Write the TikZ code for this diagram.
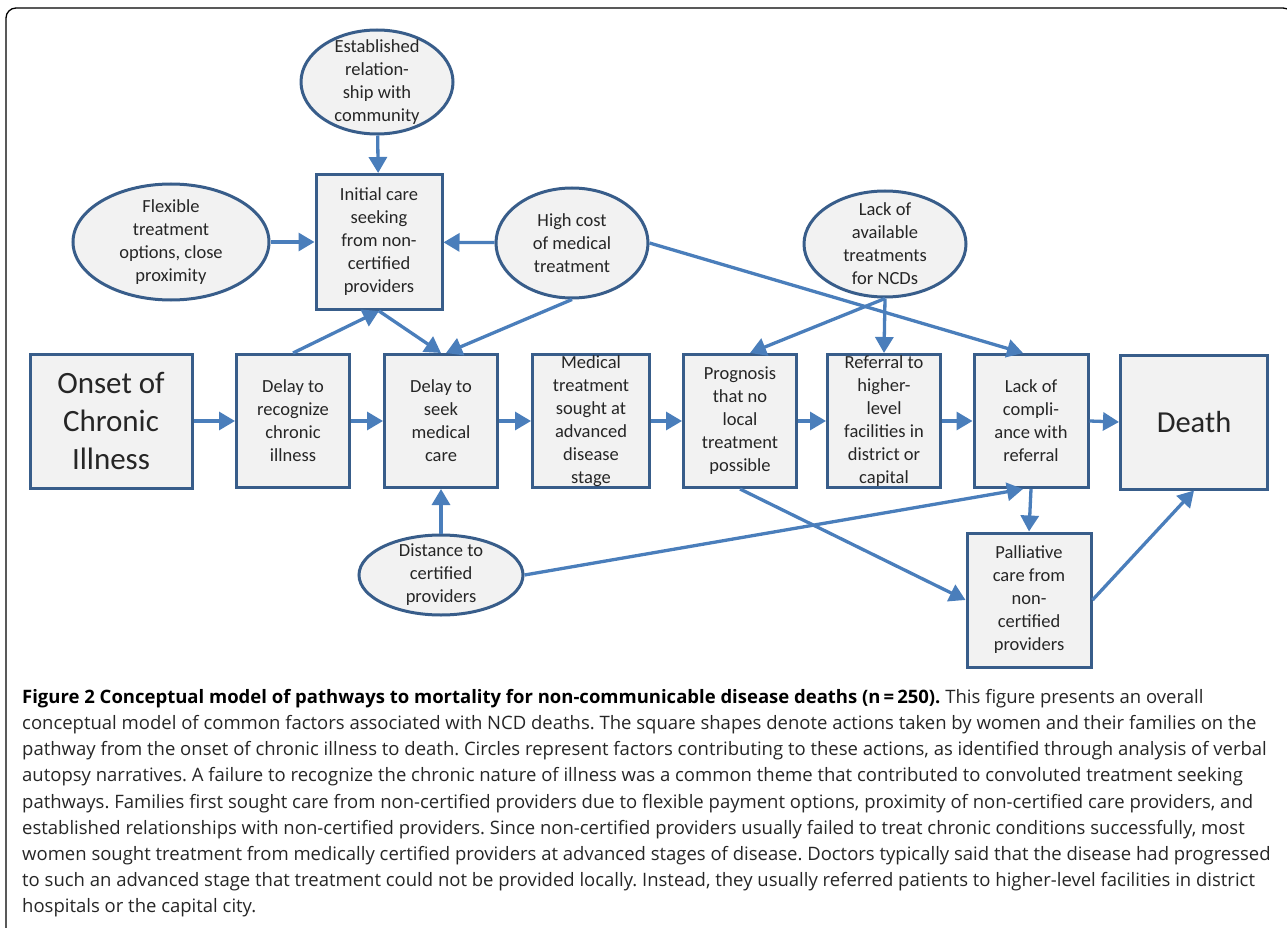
\documentclass[tikz,border=0pt]{standalone}
\usepackage{fontspec}
\setmainfont{Carlito}
\newfontfamily\capfont{Open Sans}
\usetikzlibrary{arrows.meta,shapes.geometric}
\definecolor{boxline}{HTML}{385D8A}
\definecolor{boxfill}{HTML}{F2F2F2}
\definecolor{arrowblue}{HTML}{4A7EBB}

\begin{document}
\begin{tikzpicture}[x=1pt,y=-1pt]
\useasboundingbox (0,0) rectangle (1287,928);
\draw [line width=1.3pt, rounded corners=10pt] (6,950) -- (6,8) -- (1293,8) -- (1293,950);

\begin{scope}[every node/.style={rectangle,draw=boxline,fill=boxfill,line width=3pt,
              align=center,inner xsep=0pt,inner ysep=-12pt,text=black!85,
              font=\fontsize{18.5}{23}\selectfont}]
    \node [minimum width=162pt,minimum height=134pt,font=\fontsize{31}{38}\selectfont] (ON) at (111,421) {Onset of\\Chronic\\Illness};
    \node [minimum width=113pt,minimum height=133pt] (DR) at (293,421) {Delay to\\recognize\\chronic\\illness};
    \node [minimum width=113pt,minimum height=133pt] (DS) at (441,421) {Delay to\\seek\\medical\\care};
    \node [minimum width=117pt,minimum height=133pt] (MT) at (591,421) {Medical\\treatment\\sought at\\advanced\\disease\\stage};
    \node [minimum width=113pt,minimum height=133pt] (PR) at (740,421) {Prognosis\\that no\\local\\treatment\\possible};
    \node [minimum width=113pt,minimum height=133pt] (RF) at (884,421) {Referral to\\higher-\\level\\facilities in\\district or\\capital};
    \node [minimum width=114pt,minimum height=133pt] (LC) at (1031,421) {Lack of\\compli-\\ance with\\referral};
    \node [minimum width=147pt,minimum height=134pt,font=\fontsize{30.5}{37}\selectfont] (DE) at (1194,422) {Death};
    \node [minimum width=126pt,minimum height=135pt] (IC) at (379,242) {Initial care\\seeking\\from non-\\certified\\providers};
    \node [minimum width=124pt,minimum height=134pt] (PC) at (1029,600) {Palliative\\care from\\non-\\certified\\providers};
\end{scope}

\begin{scope}[every node/.style={ellipse,draw=boxline,fill=boxfill,line width=3pt,
              align=center,inner sep=-40pt,text=black!85,
              font=\fontsize{18.5}{23}\selectfont}]
    \node [minimum width=152pt,minimum height=104pt] (ER) at (377,82) {Established\\relation-\\ship with\\community};
    \node [minimum width=196pt,minimum height=116pt] (FT) at (171,242) {Flexible\\treatment\\options, close\\proximity};
    \node [minimum width=152pt,minimum height=110pt] (HC) at (572,243) {High cost\\of medical\\treatment};
    \node [minimum width=162pt,minimum height=106pt] (LA) at (885,244) {Lack of\\available\\treatments\\for NCDs};
    \node [minimum width=164pt,minimum height=80pt] (DC) at (441,575) {Distance to\\certified\\providers};
\end{scope}

\begin{scope}[>={Triangle[length=16pt,width=18pt]},
              every edge/.style={draw=arrowblue,line width=3.3pt}]
    \path [->] (ON) edge (DR);
    \path [->] (DR) edge (DS);
    \path [->] (DS) edge (MT);
    \path [->] (MT) edge (PR);
    \path [->] (PR) edge (RF);
    \path [->] (RF) edge (LC);
    \path [->] (LC.east) edge (DE.west);
    \path [->] (ER) edge (IC);
    \path [->] (FT) edge (IC);
    \path [->] (HC) edge (IC);
    \path [->] (DR.north) edge (IC.south);
    \path [->] (IC.south) edge (DS.north);
    \path [->] (HC.south) edge ([xshift=5pt]DS.north);
    \path [->] (HC.east) edge ([xshift=-8pt]LC.north);
    \path [->] (LA.south) edge ([xshift=10pt]PR.north);
    \path [->] (LA.south) edge (RF.north);
    \path [->] (DC) edge (DS);
    \path [->] (DC.east) edge ([xshift=-8pt]LC.south);
    \path [->] (LC.south) edge (PC.north);
    \path [->] (PR.south) edge (PC.west);
    \path [->] (PC.east) edge (DE.south);
\end{scope}

\node [anchor=north west,align=left,inner sep=0pt,text=black!85,
       font=\capfont\frenchspacing\fontsize{18.5}{26.2}\selectfont] (CAP) at (22,689)
  {\textbf{\color{black}Figure 2 Conceptual model of pathways to mortality for non-communicable disease deaths (n\,=\,250).} This figure presents an overall\\
   conceptual model of common factors associated with NCD deaths. The square shapes denote actions taken by women and their families on the\\
   pathway from the onset of chronic illness to death. Circles represent factors contributing to these actions, as identified through analysis of verbal\\
   autopsy narratives. A failure to recognize the chronic nature of illness was a common theme that contributed to convoluted treatment seeking\\
   pathways. Families first sought care from non-certified providers due to flexible payment options, proximity of non-certified care providers, and\\
   established relationships with non-certified providers. Since non-certified providers usually failed to treat chronic conditions successfully, most\\
   women sought treatment from medically certified providers at advanced stages of disease. Doctors typically said that the disease had progressed\\
   to such an advanced stage that treatment could not be provided locally. Instead, they usually referred patients to higher-level facilities in district\\
   hospitals or the capital city.};
\end{tikzpicture}
\end{document}
